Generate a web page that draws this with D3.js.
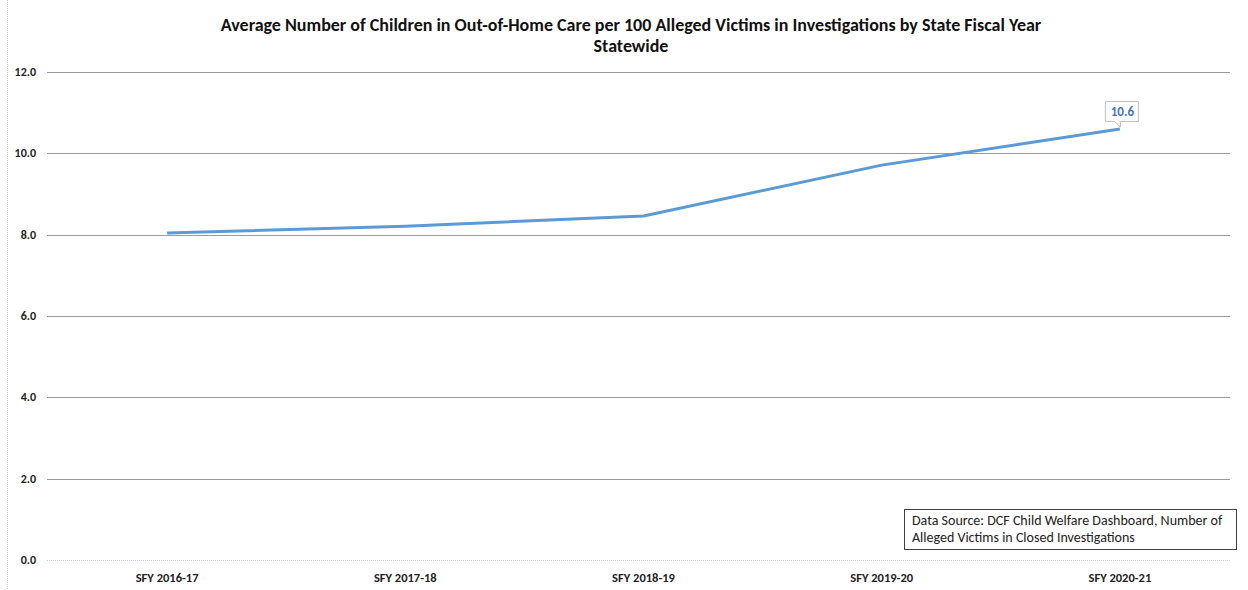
<!DOCTYPE html>
<html><head><meta charset="utf-8">
<script src="https://cdn.jsdelivr.net/npm/d3@7"></script>
<style>body{margin:0;background:#fff}svg{display:block;font-family:Calibri,Carlito,"Liberation Sans",Arial,sans-serif}</style>
</head><body>
<svg id="c" width="1248" height="590"></svg>
<script>
const categories = ["SFY 2016-17","SFY 2017-18","SFY 2018-19","SFY 2019-20","SFY 2020-21"];
const values = [8.04, 8.21, 8.46, 9.71, 10.6];
const yTicks = [0,2,4,6,8,10,12];
const titleLines = ["Average Number of Children in Out-of-Home Care per 100 Alleged Victims in Investigations by State Fiscal Year","Statewide"];
const sourceLines = ["Data Source: DCF Child Welfare Dashboard, Number of","Alleged Victims in Closed Investigations"];

const svg = d3.select("#c");
const x = d3.scaleBand().domain(categories).range([48,1239]);
const y = d3.scaleLinear().domain([0,12]).range([560,72]);

svg.append("line").attr("x1",7.5).attr("x2",7.5).attr("y1",0).attr("y2",590)
  .attr("stroke","#d0d0d0").attr("stroke-dasharray","1,1");

svg.append("g").selectAll("line").data(yTicks).join("line")
  .attr("x1",47).attr("x2",1230)
  .attr("y1",d=>Math.round(y(d))+0.5).attr("y2",d=>Math.round(y(d))+0.5)
  .attr("stroke",d=>d===0?"#d4d4d4":"#9a9a9a")
  .attr("stroke-dasharray",d=>d===0?"1,1":null);

svg.append("g").selectAll("text").data(yTicks).join("text")
  .attr("x",36).attr("y",d=>y(d)+4).attr("text-anchor","end")
  .attr("font-size",12).attr("font-weight","bold").attr("fill","#222")
  .text(d=>d.toFixed(1));

svg.append("g").selectAll("text").data(categories).join("text")
  .attr("x",d=>x(d)+x.bandwidth()/2).attr("y",582).attr("text-anchor","middle")
  .attr("font-size",12.5).attr("font-weight","bold").attr("fill","#222")
  .text(d=>d);

const line = d3.line().x((d,i)=>x(categories[i])+x.bandwidth()/2).y(d=>y(d));
svg.append("path").datum(values).attr("d",line).attr("fill","none")
  .attr("stroke","#5b9bd5").attr("stroke-width",3).attr("stroke-linejoin","round");

const li = values.length-1;
const px = x(categories[li])+x.bandwidth()/2, py = y(values[li]);
const bw=33, bh=20, bx=px-15, by=py-28;
svg.append("path")
  .attr("d",`M${bx+0.5},${by+0.5}H${bx+bw+0.5}V${by+bh+0.5}H${px+0.5}L${px+0.5},${py-2}L${px-5.5},${by+bh+0.5}H${bx+0.5}Z`)
  .attr("fill","#fff").attr("stroke","#bfbfbf");
svg.append("text").attr("x",bx+bw/2+1).attr("y",by+15).attr("text-anchor","middle")
  .attr("font-size",13).attr("font-weight","bold").attr("fill","#4472c4")
  .text(values[li].toFixed(1));

svg.append("g").selectAll("text").data(titleLines).join("text")
  .attr("x",631).attr("y",(d,i)=>31+i*21).attr("text-anchor","middle")
  .attr("font-size",18).attr("font-weight","bold").attr("fill","#111")
  .text(d=>d);

svg.append("rect").attr("x",904.5).attr("y",509.5).attr("width",332).attr("height",40)
  .attr("fill","#fff").attr("stroke","#404040");
svg.append("g").selectAll("text").data(sourceLines).join("text")
  .attr("x",912).attr("y",(d,i)=>525+i*17)
  .attr("font-size",14).attr("fill","#222").text(d=>d);
</script>
</body></html>
